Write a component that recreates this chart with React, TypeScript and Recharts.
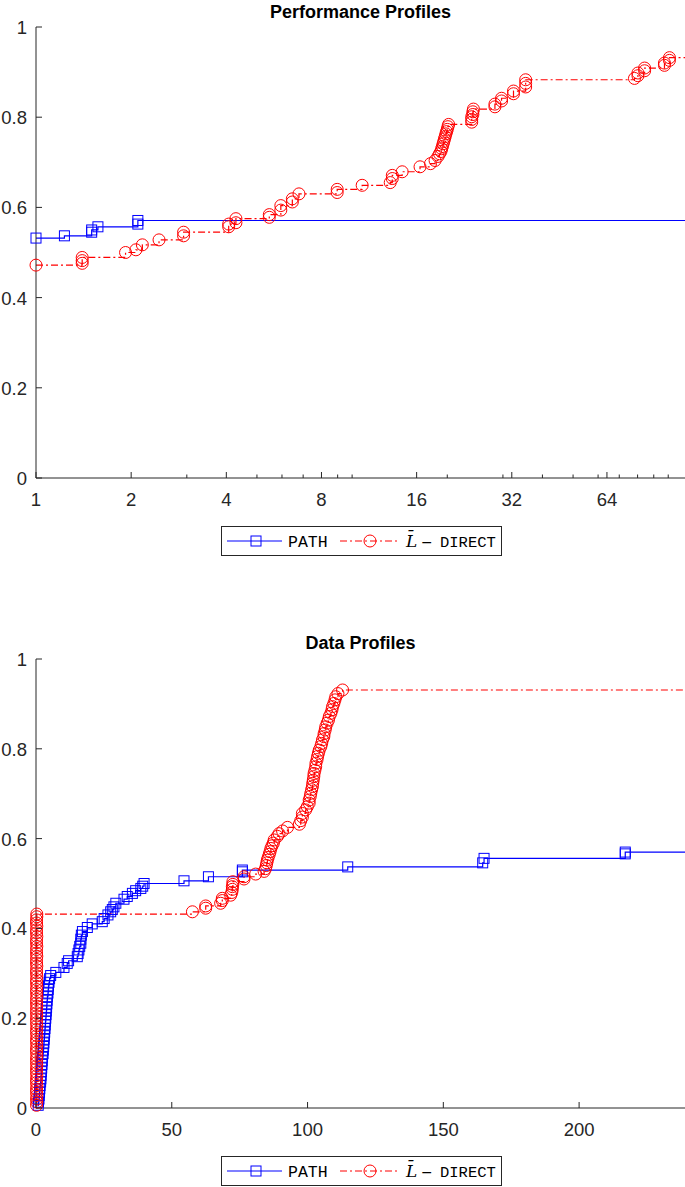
import React from "react";
import { LineChart, Line, XAxis, YAxis } from "recharts";

const BLUE = "#0000ff";
const RED = "#ff0000";
const INK = "#262626";
const SANS = "'Liberation Sans', Arial, Helvetica, sans-serif";
const MONO = "'Liberation Mono', 'Courier New', monospace";

// performance profile axis (log scale, ratio tau)
const PERF_MAJOR = [1, 2, 4, 8, 16, 32, 64];
const PERF_MINOR = [3, 5, 6, 7, 9, 10, 20, 30, 40, 50, 60, 70, 80, 90, 100];
const PERF_DOMAIN: [number, number] = [1, 113];

// data profile axis (simplex gradients)
const DATA_TICKS = [0, 50, 100, 150, 200];
const DATA_DOMAIN: [number, number] = [0, 239];

const Y_TICKS = [0, 0.2, 0.4, 0.6, 0.8, 1];

// [tau, fraction]
const perfPath: [number, number][] = [
  [1, 0.532], [1.23, 0.537], [1.5, 0.545], [1.5, 0.55], [1.57, 0.557],
  [2.1, 0.563], [2.1, 0.571], [113, 0.571],
];

const perfDirect: [number, number][] = [
  [1, 0.472], [1.4, 0.476], [1.4, 0.482], [1.4, 0.489], [1.92, 0.5],
  [2.07, 0.506], [2.17, 0.517], [2.45, 0.528], [2.93, 0.537], [2.93, 0.545],
  [4.07, 0.557], [4.07, 0.563], [4.29, 0.566], [4.29, 0.575], [5.47, 0.578],
  [5.47, 0.584], [5.95, 0.594], [5.95, 0.604], [6.47, 0.612], [6.47, 0.619],
  [6.79, 0.63], [8.97, 0.633], [8.97, 0.64], [10.76, 0.649], [13.2, 0.655],
  [13.4, 0.664], [13.4, 0.671], [14.4, 0.679], [16.4, 0.69], [17.7, 0.697],
  [18.3, 0.704], [18.7, 0.713], [18.9, 0.719], [19.1, 0.724], [19.2, 0.73],
  [19.3, 0.735], [19.4, 0.741], [19.5, 0.746], [19.6, 0.752], [19.7, 0.757],
  [19.8, 0.763], [19.9, 0.768], [20.0, 0.773], [20.1, 0.779], [20.2, 0.784],
  [23.9, 0.789], [23.9, 0.795], [23.9, 0.801], [24.1, 0.806], [24.1, 0.812],
  [24.2, 0.818], [28.3, 0.823], [28.3, 0.829], [29.7, 0.836], [29.7, 0.842],
  [32.4, 0.852], [32.4, 0.858], [35.4, 0.867], [35.4, 0.875], [35.4, 0.883],
  [78.2, 0.886], [80.2, 0.892], [80.2, 0.898], [84.2, 0.903], [84.2, 0.909],
  [97.3, 0.915], [97.3, 0.92], [100.9, 0.926], [100.9, 0.932], [113, 0.932],
];

// [simplex gradients, fraction]
const dataPath: [number, number][] = [
  [0.8, 0.006], [0.9, 0.013], [1.1, 0.02], [1.2, 0.028], [1.3, 0.035],
  [1.4, 0.043], [1.5, 0.05], [1.7, 0.058], [1.8, 0.065], [1.9, 0.073],
  [2.0, 0.081], [2.1, 0.089], [2.2, 0.097], [2.3, 0.105], [2.4, 0.113],
  [2.6, 0.121], [2.7, 0.129], [2.8, 0.137], [2.9, 0.145], [3.0, 0.153],
  [3.1, 0.161], [3.2, 0.169], [3.3, 0.177], [3.4, 0.185], [3.5, 0.193],
  [3.6, 0.2], [3.7, 0.208], [3.8, 0.216], [3.9, 0.224], [4.0, 0.232],
  [4.1, 0.24], [4.2, 0.248], [4.4, 0.256], [4.5, 0.264], [4.6, 0.272],
  [4.8, 0.28], [5.0, 0.288], [5.4, 0.295], [7.3, 0.302], [10.3, 0.313],
  [11.5, 0.322], [12.0, 0.328], [15.2, 0.337], [15.5, 0.344], [15.8, 0.352],
  [16.1, 0.36], [16.5, 0.367], [16.5, 0.376], [16.7, 0.385], [17.1, 0.393],
  [18.9, 0.402], [20.7, 0.41], [24.4, 0.415], [25.1, 0.422], [26.5, 0.43],
  [27.5, 0.437], [28.1, 0.442], [28.7, 0.448], [29.4, 0.456], [32.4, 0.465],
  [33.6, 0.471], [35.5, 0.478], [36.7, 0.484], [38.6, 0.489], [39.3, 0.494],
  [39.8, 0.5], [54.5, 0.506], [63.5, 0.515], [76, 0.526], [76, 0.53],
  [114.8, 0.537], [164.5, 0.546], [165, 0.556], [217, 0.566], [217, 0.57],
  [239, 0.57],
];

const dataDirect: [number, number][] = [
  [0.2, 0.006], [0.3, 0.013], [0.2, 0.02], [0.3, 0.028], [0.2, 0.035],
  [0.2, 0.042], [0.3, 0.05], [0.2, 0.057], [0.2, 0.064], [0.3, 0.072],
  [0.2, 0.079], [0.2, 0.087], [0.3, 0.094], [0.2, 0.101], [0.2, 0.109],
  [0.3, 0.116], [0.2, 0.124], [0.2, 0.131], [0.3, 0.138], [0.2, 0.146],
  [0.2, 0.153], [0.3, 0.161], [0.2, 0.168], [0.2, 0.175], [0.3, 0.183],
  [0.2, 0.19], [0.2, 0.198], [0.3, 0.205], [0.2, 0.212], [0.2, 0.22],
  [0.3, 0.227], [0.2, 0.234], [0.2, 0.242], [0.3, 0.249], [0.2, 0.257],
  [0.2, 0.264], [0.3, 0.271], [0.2, 0.279], [0.2, 0.286], [0.3, 0.294],
  [0.2, 0.301], [0.2, 0.308], [0.3, 0.316], [0.2, 0.323], [0.2, 0.331],
  [0.3, 0.338], [0.2, 0.345], [0.2, 0.353], [0.3, 0.36], [0.2, 0.368],
  [0.2, 0.375], [0.3, 0.382], [0.2, 0.39], [0.2, 0.397], [0.3, 0.405],
  [0.2, 0.412], [0.2, 0.419], [0.3, 0.426], [0.3, 0.432],
  [57.6, 0.437], [62.5, 0.445], [62.5, 0.45], [68, 0.456], [68.6, 0.462],
  [68.6, 0.467], [71.7, 0.474], [72.1, 0.48], [72.3, 0.487], [72.3, 0.493],
  [72.5, 0.498], [72.5, 0.504], [76.6, 0.51], [76.6, 0.515], [80.9, 0.521],
  [84, 0.527], [84.5, 0.533], [84.8, 0.54], [85, 0.546], [85.2, 0.552],
  [85.5, 0.558], [85.9, 0.565], [86.2, 0.571], [86.5, 0.578], [86.9, 0.584],
  [87.4, 0.59], [87.7, 0.597], [88.9, 0.605], [89.5, 0.611], [90.8, 0.617],
  [92.6, 0.625], [97, 0.632], [97.5, 0.64], [98.1, 0.648], [98.1, 0.656],
  [99.3, 0.664], [99.9, 0.671], [100.6, 0.679], [100.6, 0.686], [101, 0.694],
  [101.2, 0.701], [101.5, 0.709], [101.8, 0.716], [101.9, 0.723], [102.1, 0.73],
  [102.3, 0.738], [102.4, 0.745], [102.7, 0.752], [103, 0.76], [103.1, 0.768],
  [103.5, 0.776], [103.7, 0.783], [104, 0.79], [104.3, 0.797], [104.9, 0.805],
  [105.2, 0.812], [105.5, 0.82], [106, 0.827], [106.1, 0.834], [106.5, 0.842],
  [106.7, 0.849], [107.2, 0.857], [107.7, 0.864], [108, 0.872], [108.6, 0.879],
  [109, 0.887], [109.2, 0.894], [109.7, 0.901], [110.1, 0.909], [110.4, 0.916],
  [111.2, 0.923], [112.9, 0.931], [239, 0.931],
];

const toRows = (pts: [number, number][]) => pts.map(([x, y]) => ({ x, y }));

const DASHDOT = "7 3 2 3";

/* eslint-disable @typescript-eslint/no-explicit-any */
// last point only carries the line to the axis edge, no marker
const squareDot = (n: number) => (p: any) => {
  const { cx, cy, index } = p;
  if (index === n - 1 || cx == null) return <g key={`s${index}`} />;
  return (
    <rect key={`s${index}`} x={cx - 5} y={cy - 5} width={10} height={10}
      fill="none" stroke={BLUE} strokeWidth={1} />
  );
};

const circleDot = (n: number) => (p: any) => {
  const { cx, cy, index } = p;
  if (index === n - 1 || cx == null) return <g key={`c${index}`} />;
  return (
    <circle key={`c${index}`} cx={cx} cy={cy} r={6}
      fill="none" stroke={RED} strokeWidth={1} />
  );
};

// ticks point inward, MATLAB style
const bottomTick = (majors: number[] | null) => (p: any) => {
  const { x, y, payload } = p;
  const v = payload.value;
  const major = !majors || majors.includes(v);
  return (
    <g>
      <line x1={x} x2={x} y1={y} y2={y - (major ? 6 : 3.5)} stroke={INK} strokeWidth={1} />
      {major && (
        <text x={x} y={y + 28} textAnchor="middle" fontFamily={SANS} fontSize={18.5} fill={INK}>
          {v}
        </text>
      )}
    </g>
  );
};

const topTick = (majors: number[] | null) => (p: any) => {
  const { x, y, payload } = p;
  const major = !majors || majors.includes(payload.value);
  return <line x1={x} x2={x} y1={y} y2={y + (major ? 6 : 3.5)} stroke={INK} strokeWidth={1} />;
};

const leftTick = (p: any) => {
  const { x, y, payload } = p;
  return (
    <g>
      <line x1={x} x2={x + 6} y1={y} y2={y} stroke={INK} strokeWidth={1} />
      <text x={x - 9} y={y + 7} textAnchor="end" fontFamily={SANS} fontSize={18.5} fill={INK}>
        {String(payload.value)}
      </text>
    </g>
  );
};

const rightTick = (p: any) => {
  const { x, y } = p;
  return <line x1={x} x2={x - 6} y1={y} y2={y} stroke={INK} strokeWidth={1} />;
};
/* eslint-enable @typescript-eslint/no-explicit-any */

function Title({ top, children }: { top: number; children: React.ReactNode }) {
  return (
    <div
      style={{
        position: "absolute", left: 36, top, width: 649, textAlign: "center",
        fontFamily: SANS, fontWeight: "bold", fontSize: 18, lineHeight: "20px", color: "#000",
      }}
    >
      {children}
    </div>
  );
}

function LegendBox({ top }: { top: number }) {
  return (
    <svg style={{ position: "absolute", left: 221, top }} width={281} height={30}>
      <rect x={0.5} y={0.5} width={280} height={29} fill="#fff" stroke={INK} strokeWidth={1} />
      <line x1={6} x2={61} y1={15} y2={15} stroke={BLUE} strokeWidth={1.2} />
      <rect x={30} y={10} width={10} height={10} fill="none" stroke={BLUE} strokeWidth={1} />
      <text x={67} y={20.5} fontFamily={MONO} fontSize={16.5} fill="#000">PATH</text>
      <line x1={119} x2={179} y1={15} y2={15} stroke={RED} strokeWidth={1.2} strokeDasharray={DASHDOT} />
      <circle cx={149} cy={15} r={6} fill="none" stroke={RED} strokeWidth={1} />
      <text x={185} y={20.5} fontSize={17} fill="#000">
        <tspan fontFamily="'DejaVu Serif', serif" fontStyle="italic">L&#x0304;</tspan>
        <tspan x={200} fontFamily="'DejaVu Serif', serif" fontSize={14}>−</tspan>
        <tspan x={219} fontFamily={MONO} fontSize={15.5}>DIRECT</tspan>
      </text>
    </svg>
  );
}

const axisLine = { stroke: INK, strokeWidth: 1 };

function PerfChart() {
  const path = toRows(perfPath);
  const direct = toRows(perfDirect);
  const ticks = [...PERF_MAJOR, ...PERF_MINOR].sort((a, b) => a - b);
  return (
    <LineChart width={685} height={570} margin={{ top: 27, right: 0, bottom: 62, left: 0 }}>
      <XAxis xAxisId="b" dataKey="x" type="number" scale="log" domain={PERF_DOMAIN}
        ticks={ticks} interval={0} tickSize={0} tickMargin={0} height={30}
        axisLine={axisLine} tickLine={false} tick={bottomTick(PERF_MAJOR)} />
      <XAxis xAxisId="t" orientation="top" dataKey="x" type="number" scale="log" domain={PERF_DOMAIN}
        ticks={ticks} interval={0} tickSize={0} tickMargin={0} height={0}
        axisLine={axisLine} tickLine={false} tick={topTick(PERF_MAJOR)} allowDataOverflow />
      <YAxis yAxisId="l" type="number" domain={[0, 1]} ticks={Y_TICKS} interval={0}
        width={36} tickSize={0} tickMargin={0} axisLine={axisLine} tickLine={false} tick={leftTick} />
      <YAxis yAxisId="r" orientation="right" type="number" domain={[0, 1]} ticks={Y_TICKS} interval={0}
        width={0} tickSize={0} tickMargin={0} axisLine={false} tickLine={false} tick={rightTick}
        allowDataOverflow />
      <Line xAxisId="b" yAxisId="l" data={path} dataKey="y" type="stepAfter" stroke={BLUE}
        strokeWidth={1.2} dot={squareDot(path.length)} activeDot={false} isAnimationActive={false} />
      <Line xAxisId="b" yAxisId="l" data={direct} dataKey="y" type="stepAfter" stroke={RED}
        strokeWidth={1.2} strokeDasharray={DASHDOT} dot={circleDot(direct.length)} activeDot={false}
        isAnimationActive={false} />
    </LineChart>
  );
}

function DataChart() {
  const path = toRows(dataPath);
  const direct = toRows(dataDirect);
  return (
    <LineChart width={685} height={587} margin={{ top: 59, right: 0, bottom: 49, left: 0 }}>
      <XAxis xAxisId="b" dataKey="x" type="number" domain={DATA_DOMAIN}
        ticks={DATA_TICKS} interval={0} tickSize={0} tickMargin={0} height={30}
        axisLine={axisLine} tickLine={false} tick={bottomTick(null)} />
      <XAxis xAxisId="t" orientation="top" dataKey="x" type="number" domain={DATA_DOMAIN}
        ticks={DATA_TICKS} interval={0} tickSize={0} tickMargin={0} height={0}
        axisLine={axisLine} tickLine={false} tick={topTick(null)} allowDataOverflow />
      <YAxis yAxisId="l" type="number" domain={[0, 1]} ticks={Y_TICKS} interval={0}
        width={36} tickSize={0} tickMargin={0} axisLine={axisLine} tickLine={false} tick={leftTick} />
      <YAxis yAxisId="r" orientation="right" type="number" domain={[0, 1]} ticks={Y_TICKS} interval={0}
        width={0} tickSize={0} tickMargin={0} axisLine={false} tickLine={false} tick={rightTick}
        allowDataOverflow />
      <Line xAxisId="b" yAxisId="l" data={path} dataKey="y" type="stepAfter" stroke={BLUE}
        strokeWidth={1.2} dot={squareDot(path.length)} activeDot={false} isAnimationActive={false} />
      <Line xAxisId="b" yAxisId="l" data={direct} dataKey="y" type="stepAfter" stroke={RED}
        strokeWidth={1.2} strokeDasharray={DASHDOT} dot={circleDot(direct.length)} activeDot={false}
        isAnimationActive={false} />
    </LineChart>
  );
}

export default function App() {
  return (
    <div style={{ position: "absolute", left: 0, top: 0, width: 685, height: 1187, background: "#fff", overflow: "hidden" }}>
      <Title top={2}>Performance Profiles</Title>
      <div style={{ position: "absolute", left: 0, top: 0 }}>
        <PerfChart />
      </div>
      <LegendBox top={526} />
      <Title top={633}>Data Profiles</Title>
      <div style={{ position: "absolute", left: 0, top: 600 }}>
        <DataChart />
      </div>
      <LegendBox top={1156} />
    </div>
  );
}
